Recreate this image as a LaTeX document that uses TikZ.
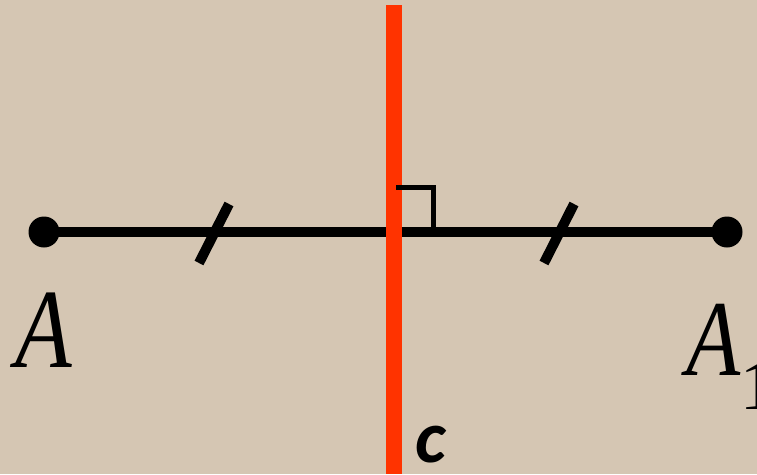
\documentclass[tikz,border=0pt]{standalone}
\usepackage{fontspec}
\setmainfont{Liberation Serif}
\newfontfamily\labelsans{Carlito}
\definecolor{bgbeige}{HTML}{D5C6B3}
\definecolor{axisred}{HTML}{FF3300}
\tikzset{
  segline/.style={line width=10pt, black},
  tickmark/.style={line width=10pt, black},
  rightmark/.style={line width=5pt, black, line join=miter},
  redaxis/.style={line width=16pt, axisred},
  ptdot/.style={circle, fill=black, minimum size=31pt, inner sep=0pt},
  ptlabel/.style={inner sep=0pt},
}
\begin{document}
\begin{tikzpicture}[x=1pt,y=-1pt]
\fill[bgbeige] (0,0) rectangle (757,474);
\useasboundingbox (0,0) rectangle (757,474);
% points
\node[ptdot] (A) at (44,232) {};
\node[ptdot] (A1) at (727,232) {};
\draw[segline] (A.center) -- (A1.center);
% ticks
\coordinate (t1a) at (229,204);
\coordinate (t1b) at (199,263);
\coordinate (t2a) at (574,204);
\coordinate (t2b) at (544,263);
\draw[tickmark] (t1a) -- (t1b);
\draw[tickmark] (t2a) -- (t2b);
% red axis
\coordinate (ctop) at (394,5);
\coordinate (cbot) at (394,474);
\draw[redaxis] (ctop) -- (cbot);
% right angle mark
\coordinate (r1) at (396,187);
\coordinate (r2) at (433,187);
\coordinate (r3) at (433,230);
\draw[rightmark] (r1) -- (r2) -- (r3);
% labels
\node[ptlabel, anchor=base west] (LA) at (15,367)
  {\scalebox{0.82}[1]{\fontsize{113}{113}\selectfont\itshape A}};
\node[ptlabel, anchor=base west] (LA1) at (686,375)
  {\scalebox{0.82}[1]{\fontsize{108}{108}\selectfont\itshape A}\raisebox{-34pt}{\fontsize{70}{70}\selectfont\upshape 1}};
\node[inner sep=0pt, anchor=base west, font=\labelsans\fontsize{74}{74}\selectfont\bfseries\itshape] (lc) at (415,462) {c};
\end{tikzpicture}
\end{document}
